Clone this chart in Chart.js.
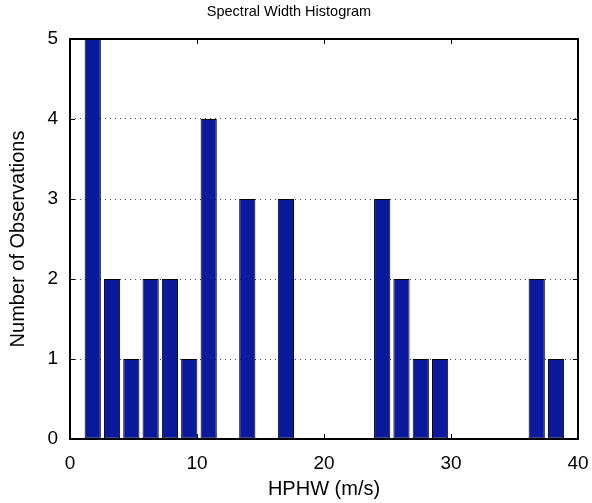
<!DOCTYPE html>
<html>
<head>
<meta charset="utf-8">
<script src="https://cdn.jsdelivr.net/npm/chart.js@4/dist/chart.umd.min.js"></script>
<style>
  html, body { margin: 0; padding: 0; background: #fff; }
  #wrap { width: 592px; height: 503px; }
</style>
</head>
<body>
<div id="wrap"><canvas id="chart" width="592" height="503"></canvas></div>
<script>
// bin centres (m/s) of the non-empty bins and their counts
const binCentres = [1.79, 3.31, 4.83, 6.35, 7.87, 9.39, 10.92, 13.96, 17.0, 24.58, 26.1, 27.62, 29.14, 36.75, 38.27];
const counts     = [5, 2, 1, 2, 2, 1, 4, 3, 3, 3, 2, 1, 1, 2, 1];
const xTicks = [0, 10, 20, 30, 40];
const yTicks = [0, 1, 2, 3, 4, 5];

const FONT = "'Liberation Sans', Arial, sans-serif";

// box round the plot area plus small inward tick marks on all four sides
const frame = {
  id: "frame",
  afterDraw(c) {
    const {ctx, chartArea: a, scales: {x, y}} = c;
    ctx.save();
    ctx.strokeStyle = "#000";
    ctx.lineWidth = 1;
    ctx.beginPath();
    xTicks.forEach(v => {
      const px = Math.round(x.getPixelForValue(v)) + 0.5;
      ctx.moveTo(px, a.bottom); ctx.lineTo(px, a.bottom - 5);
      ctx.moveTo(px, a.top); ctx.lineTo(px, a.top + 5);
    });
    yTicks.forEach(v => {
      const py = Math.round(y.getPixelForValue(v)) + 0.5;
      ctx.moveTo(a.left, py); ctx.lineTo(a.left + 5, py);
      ctx.moveTo(a.right, py); ctx.lineTo(a.right - 5, py);
    });
    ctx.stroke();
    ctx.lineWidth = 2;
    ctx.strokeRect(a.left, a.top, a.right - a.left, a.bottom - a.top);
    ctx.restore();
  }
};

// fixed axis sizes so the plot box lands in the same place every time
const fitX = s => { s.height = 64; s.paddingLeft = 0; s.paddingRight = 0; };
const fitY = s => { s.width = 70; s.paddingTop = 0; s.paddingBottom = 0; };

new Chart(document.getElementById("chart"), {
  type: "bar",
  data: {
    datasets: [{
      data: binCentres.map((x, i) => ({x, y: counts[i]})),
      backgroundColor: "#0b1a9c",
      borderColor: "#000",
      borderWidth: 1,
      borderSkipped: false,
      barPercentage: 0.84,
      categoryPercentage: 1
    }]
  },
  options: {
    responsive: false,
    animation: false,
    layout: { padding: { left: 0, right: 14, top: 0, bottom: 0 } },
    plugins: {
      legend: { display: false },
      tooltip: { enabled: false },
      title: {
        display: true,
        text: "Spectral Width Histogram",
        color: "#000",
        font: { family: FONT, size: 14.5, weight: "normal", lineHeight: 1.2 },
        padding: { top: 3, bottom: 18.6 }
      }
    },
    scales: {
      x: {
        type: "linear",
        offset: false,
        min: 0, max: 40,
        afterBuildTicks: s => { s.ticks = xTicks.map(v => ({value: v})); },
        afterFit: fitX,
        ticks: { color: "#000", font: { family: FONT, size: 19, lineHeight: 1 }, padding: 7, maxRotation: 0 },
        grid: { display: false },
        border: { display: false },
        title: {
          display: true, text: "HPHW (m/s)", color: "#000",
          font: { family: FONT, size: 20, lineHeight: 1.1 }, padding: { top: 0, bottom: 3 }
        }
      },
      y: {
        min: 0, max: 5,
        afterBuildTicks: s => { s.ticks = yTicks.map(v => ({value: v})); },
        afterFit: fitY,
        ticks: { color: "#000", font: { family: FONT, size: 19 }, padding: 12 },
        grid: {
          color: c => (c.tick.value > 0 && c.tick.value < 5) ? "#444" : "rgba(0,0,0,0)",
          lineWidth: 1,
          drawTicks: false
        },
        border: { display: false, dash: [1, 4] },
        title: {
          display: true, text: "Number of Observations", color: "#000",
          font: { family: FONT, size: 20 }, padding: { top: 6, bottom: 0 }
        }
      }
    }
  },
  plugins: [frame]
});
</script>
</body>
</html>
